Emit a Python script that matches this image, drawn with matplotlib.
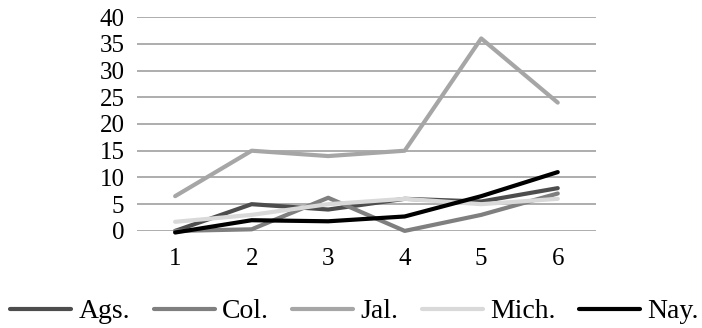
import numpy as np
import matplotlib.pyplot as plt

plt.rcParams['font.family'] = ['Liberation Serif', 'DejaVu Serif']

periods = [1, 2, 3, 4, 5, 6]
ags = [0, 5, 4, 6, 5.5, 8]
col = [0, 0.3, 6.2, 0, 3, 7]
jal = [6.5, 15, 14, 15, 36, 24]
mich = [1.7, 3, 5, 6, 5, 6]
nay = [-0.3, 2, 1.8, 2.7, 6.5, 11]

names = ['Ags.', 'Col.', 'Jal.', 'Mich.', 'Nay.']
series = [ags, col, jal, mich, nay]
colors = ['#4d4d4d', '#7f7f7f', '#a6a6a6', '#d9d9d9', '#000000']

fig = plt.figure(figsize=(7.02, 3.28), dpi=100)
ax = fig.add_axes([0.195, 0.296, 0.654, 0.652])

x = np.arange(len(periods))
for vals, name, c in zip(series, names, colors):
    ax.plot(x, vals, color=c, lw=3, label=name, clip_on=False,
            solid_capstyle='round', solid_joinstyle='round')

ax.set_xlim(-0.5, len(periods) - 0.5)
ax.set_ylim(0, 40)
ax.set_yticks(range(0, 41, 5))
ax.set_xticks(x)
ax.set_xticklabels([str(p) for p in periods])
ax.yaxis.grid(True, color='#a0a0a0', lw=1.2)
ax.set_axisbelow(True)
for s in ax.spines.values():
    s.set_visible(False)
ax.tick_params(length=0, labelsize=18)
ax.tick_params(axis='x', pad=12)
ax.tick_params(axis='y', pad=9)

fig.legend(loc='center', bbox_to_anchor=(0.505, 0.05), ncol=5,
           frameon=False, fontsize=20, handlelength=2.2,
           handletextpad=0.25, columnspacing=0.85, borderpad=0)

fig.savefig('out.png', dpi=100)
